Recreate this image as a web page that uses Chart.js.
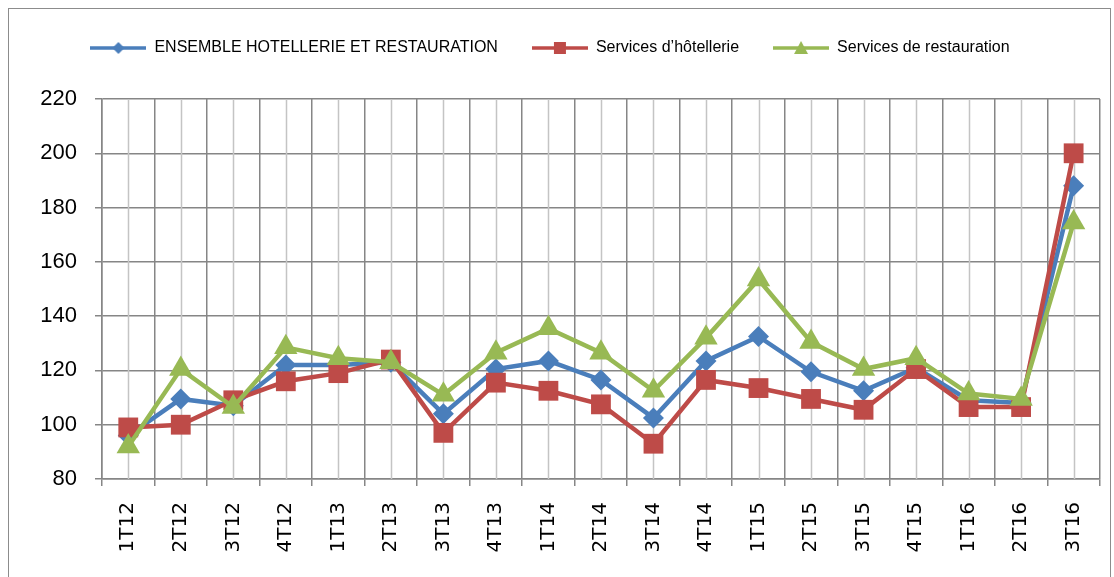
<!DOCTYPE html>
<html>
<head>
    <meta charset="utf-8">
    <title>Indices hôtellerie et restauration</title>
    <style>
        body {
            margin: 0;
            padding: 0;
            background-color: #ffffff;
        }
        #chart-container {
            position: relative;
            width: 1114px;
            height: 577px;
        }
    </style>
</head>
<body>
<div id="chart-container">
    <canvas id="chart" width="1114" height="577"></canvas>
</div>
<script src="https://cdn.jsdelivr.net/npm/chart.js"></script>
<script>
    // Trimestres
    const quarters = ['1T12', '2T12', '3T12', '4T12', '1T13', '2T13', '3T13', '4T13', '1T14', '2T14',
                      '3T14', '4T14', '1T15', '2T15', '3T15', '4T15', '1T16', '2T16', '3T16'];

    // Series values
    const ensembleValues = [96, 109.5, 107, 122, 122, 123, 104, 120.5, 123.5, 116.5,
                            102.5, 123.5, 132.5, 119.5, 112.5, 121, 109, 108, 188];
    const hotellerieValues = [99, 100, 109, 116, 119, 124, 97, 115.5, 112.5, 107.5,
                              93, 116.5, 113.5, 109.5, 105.5, 120.5, 106.5, 106.5, 200];
    const restaurationValues = [92, 120.5, 106.5, 128.5, 124.5, 123, 111, 126.5, 135.5, 126.5,
                                112.5, 132, 153.5, 130.5, 120.5, 124.5, 111.5, 109.5, 174.5];

    // Y axis ticks
    const yTicks = [80, 100, 120, 140, 160, 180, 200, 220];

    const seriesNames = ['ENSEMBLE HOTELLERIE ET RESTAURATION', 'Services d\u2019hôtellerie', 'Services de restauration'];
    const seriesColors = ['#4A7EBB', '#BE4B48', '#98B954'];
    const seriesMarkers = ['rectRot', 'rect', 'triangle'];
    const markerSizes = [10.5, 14, 13.5];

    // small legend swatch: line with marker in the middle
    function legendSwatch(color, marker) {
      const c = document.createElement('canvas');
      c.width = 56;
      c.height = 16;
      const g = c.getContext('2d');
      g.strokeStyle = color;
      g.fillStyle = color;
      g.lineWidth = 3.5;
      g.beginPath();
      g.moveTo(0, 8);
      g.lineTo(56, 8);
      g.stroke();
      g.beginPath();
      if (marker === 'rectRot') {
        g.moveTo(28, 2); g.lineTo(34, 8); g.lineTo(28, 14); g.lineTo(22, 8);
      } else if (marker === 'rect') {
        g.rect(22, 2, 12, 12);
      } else {
        g.moveTo(28, 1); g.lineTo(35, 14); g.lineTo(21, 14);
      }
      g.closePath();
      g.fill();
      return c;
    }

    const allValues = [ensembleValues, hotellerieValues, restaurationValues];

    // center grid lines (lighter) at each category
    const centerLines = {
      id: 'centerLines',
      beforeDatasetsDraw(chart) {
        const x = chart.scales.x;
        const area = chart.chartArea;
        const g = chart.ctx;
        g.save();
        g.strokeStyle = '#C4C4C4';
        g.lineWidth = 1.5;
        quarters.forEach((q, i) => {
          const px = Math.round(x.getPixelForValue(i)) + 0.5;
          g.beginPath();
          g.moveTo(px, area.top);
          g.lineTo(px, area.bottom);
          g.stroke();
        });
        g.restore();
      }
    };

    // outer frame
    const outerFrame = {
      id: 'outerFrame',
      beforeDraw(chart) {
        const g = chart.ctx;
        g.save();
        g.strokeStyle = '#8C8C8C';
        g.lineWidth = 1;
        g.strokeRect(8.5, 8.5, 1102, 600);
        g.restore();
      }
    };

    // more room under the legend
    const legendGap = {
      id: 'legendGap',
      beforeInit(chart) {
        const fit = chart.legend.fit;
        chart.legend.fit = function () {
          fit.bind(chart.legend)();
          this.height += 33;
        };
      }
    };

    const ctx = document.getElementById('chart').getContext('2d');

    const chart = new Chart(ctx, {
      type: 'line',
      data: {
        labels: quarters,
        datasets: allValues.map((vals, i) => ({
          label: seriesNames[i],
          data: vals,
          borderColor: seriesColors[i],
          backgroundColor: seriesColors[i],
          borderWidth: 4.5,
          pointStyle: seriesMarkers[i],
          pointRadius: markerSizes[i],
          pointBorderWidth: 0,
          pointHoverRadius: markerSizes[i],
          tension: 0,
          fill: false,
          order: 2 - i, // green on top
        })),
      },
      options: {
        responsive: false,
        animation: false,
        layout: {
          padding: { left: 0, right: 14, top: 6, bottom: 0 },
        },
        scales: {
          x: {
            offset: true,
            grid: {
              offset: true,
              color: '#868686',
              lineWidth: 1.5,
              tickLength: 7,
            },
            border: { color: '#868686', width: 1.5 },
            ticks: {
              maxRotation: 90,
              minRotation: 90,
              padding: 16,
              color: '#000000',
              font: { family: 'DejaVu Sans', size: 20 },
            },
            afterFit(scale) {
              scale.height = 98;
            },
          },
          y: {
            min: 80,
            max: 220,
            afterBuildTicks(scale) {
              scale.ticks = yTicks.map(v => ({ value: v }));
            },
            grid: {
              color: '#868686',
              lineWidth: 1.5,
              tickLength: 7,
            },
            border: { color: '#868686', width: 1.5 },
            ticks: {
              padding: 18,
              color: '#000000',
              font: { family: 'Liberation Sans', size: 22 },
            },
            afterFit(scale) {
              scale.width = 102;
            },
          },
        },
        plugins: {
          legend: {
            display: true,
            position: 'top',
            labels: {
              usePointStyle: true,
              pointStyleWidth: 56,
              padding: 34,
              color: '#000000',
              font: { family: 'Liberation Sans', size: 16 },
              generateLabels(chart) {
                return chart.data.datasets.map((ds, i) => ({
                  text: ds.label,
                  pointStyle: legendSwatch(seriesColors[i], seriesMarkers[i]),
                  fillStyle: seriesColors[i],
                  strokeStyle: seriesColors[i],
                  lineWidth: 0,
                  hidden: false,
                  datasetIndex: i,
                  fontColor: '#000000',
                }));
              },
            },
          },
          tooltip: { enabled: false },
        },
      },
      plugins: [outerFrame, centerLines, legendGap],
    });
</script>
</body>
</html>
